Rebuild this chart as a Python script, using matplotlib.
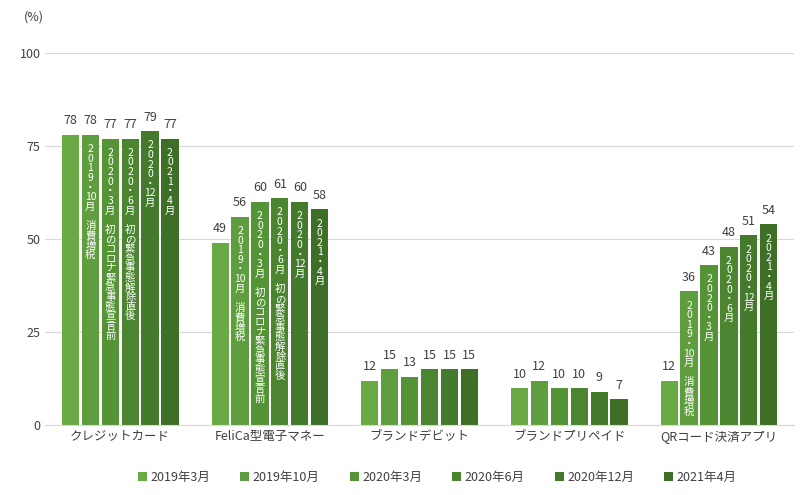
import matplotlib
matplotlib.use("Agg")
import matplotlib.pyplot as plt
import numpy as np

plt.rcParams['font.family'] = ['Noto Sans CJK JP']

categories = ["クレジットカード", "FeliCa型電子マネー", "ブランドデビット", "ブランドプリペイド", "QRコード決済アプリ"]
series = ["2019年3月", "2019年10月", "2020年3月", "2020年6月", "2020年12月", "2021年4月"]
values = [
    [78, 49, 12, 10, 12],
    [78, 56, 15, 12, 36],
    [77, 60, 13, 10, 43],
    [77, 61, 15, 10, 48],
    [79, 60, 15, 9, 51],
    [77, 58, 15, 7, 54],
]
dates = [None,
         ["2", "0", "1", "9", "・", "10", "月"],
         ["2", "0", "2", "0", "・", "3", "月"],
         ["2", "0", "2", "0", "・", "6", "月"],
         ["2", "0", "2", "0", "・", "12", "月"],
         ["2", "0", "2", "1", "・", "4", "月"]]
events = [None,
          ["消", "費", "増", "税"],
          ["初", "の", "コ", "ロ", "ナ", "緊", "急", "事", "態", "宣", "言", "前"],
          ["初", "の", "緊", "急", "事", "態", "解", "除", "直", "後"],
          [], []]
date_groups = [0, 1, 4]
event_groups = [0, 1]
colors = ['#6aaa45', '#5f9e3e', '#559436', '#4b8530', '#437a2b', '#3d6f27']

fig = plt.figure(figsize=(8.1, 4.95), dpi=100)
ax = fig.add_axes([0.056, 0.141, 0.924, 0.752])
x = np.arange(len(categories))
pitch = 0.133
w = 0.115
for i, s in enumerate(series):
    pos = x + (i - 2.5) * pitch
    ax.bar(pos, values[i], w, color=colors[i], label=s, zorder=2)
    for j, v in enumerate(values[i]):
        ax.text(pos[j], v + 2, str(v), ha='center', va='bottom', fontsize=9, color='#404040')
        if dates[i] and j in date_groups:
            lines = list(dates[i])
            if j in event_groups or i == 1:
                lines += [""] + events[i]
            ax.text(pos[j], v - 2.5, "\n".join(lines), ha='center', va='top', fontsize=7.5,
                    color='white', linespacing=0.95, zorder=3)

ax.set_ylim(0, 100)
ax.set_xlim(-0.5, len(categories) - 0.5)
ax.set_yticks([0, 25, 50, 75, 100])
ax.set_xticks(x)
ax.set_xticklabels(categories, fontsize=9, color='#404040')
ax.tick_params(axis='y', labelsize=9, colors='#404040', length=0)
ax.tick_params(axis='x', length=0)
ax.grid(axis='y', color='#d9d9d9', linewidth=0.8, zorder=0)
for sp in ['top', 'right', 'left']:
    ax.spines[sp].set_visible(False)
ax.spines['bottom'].set_color('#d9d9d9')
fig.text(0.03, 0.965, "(%)", fontsize=9, color='#404040', va='center')
fig.legend(loc='lower center', ncol=6, frameon=False, fontsize=9, handlelength=0.7,
           handleheight=0.7, columnspacing=2.4, handletextpad=0.3, bbox_to_anchor=(0.54, 0.0),
           labelcolor='#404040')
fig.savefig("out.png", dpi=100)
